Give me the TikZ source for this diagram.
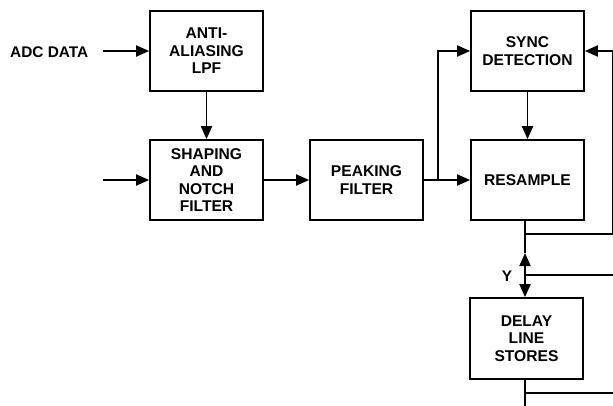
\documentclass[tikz,border=0pt]{standalone}
\usepackage{fontspec}
\setmainfont{Liberation Sans}
\usetikzlibrary{arrows.meta}
\usetikzlibrary{calc}
\tikzset{
    block/.style={draw,line width=1.7pt,minimum width=113pt,minimum height=80pt,inner sep=0pt,
        align=center,font=\bfseries\fontsize{15.6}{17.6}\selectfont},
    lbl/.style={inner sep=0pt,font=\bfseries\fontsize{15.4}{17.6}\selectfont},
    sig/.style={line width=1.9pt,-{Triangle[length=13pt,width=11pt]}},
    wire/.style={line width=1.9pt}
}
\begin{document}
\begin{tikzpicture}[x=1pt,y=-1pt]
        \useasboundingbox (0,0) rectangle (613,406);

        \node[block] (aa) at (206.5,51) {ANTI-\\ALIASING\\LPF};
        \node[block] (sh) at (206.5,180) {SHAPING\\AND\\NOTCH\\FILTER};
        \node[block] (pk) at (366.5,180) {PEAKING\\FILTER};
        \node[block] (sy) at (527.5,51) {SYNC\\DETECTION};
        \node[block] (rs) at (527.5,180) {RESAMPLE};
        \node[block,minimum height=81pt] (dl) at (526.5,338.5) {DELAY\\LINE\\STORES};

        \node[lbl,anchor=west] (adc) at (10,52) {ADC DATA};
        \coordinate (adcin) at (103,51);
        \coordinate (shin) at (103,180);
        \coordinate (br) at (438,180);
        \coordinate (fb) at (613,234);
        \coordinate (ytip) at (525,253);
        \coordinate (ytap) at (525,275);
        \coordinate (dtap) at (525,393);
        \coordinate (dend) at (525,406);
        \node[lbl] (y) at (507,276) {Y};

        \draw[sig] (adcin) -- (aa.west);
        \draw[sig] (aa.south) -- (sh.north);
        \draw[sig] (shin) -- (sh.west);
        \draw[sig] (sh.east) -- (pk.west);
        \draw[sig] (pk.east) -- (rs.west);
        \draw[sig] (br) |- (sy.west);
        \draw[sig] (sy.south) -- (rs.north);

        % feedback to sync
        \draw[sig] (fb -| ytip) -- (fb) |- (sy.east);

        % Y bus
        \draw[wire] (rs.south -| ytip) -- (ytip);
        \draw[sig,{Triangle[length=13pt,width=11pt]}-{Triangle[length=13pt,width=11pt]}] (ytip) -- (dl.north -| ytip);
        \draw[wire] (ytap) -- (613,275);

        \draw[wire] (dl.south -| dend) -- (dend);
        \draw[wire] (dtap) -- (613,393);
\end{tikzpicture}
\end{document}
